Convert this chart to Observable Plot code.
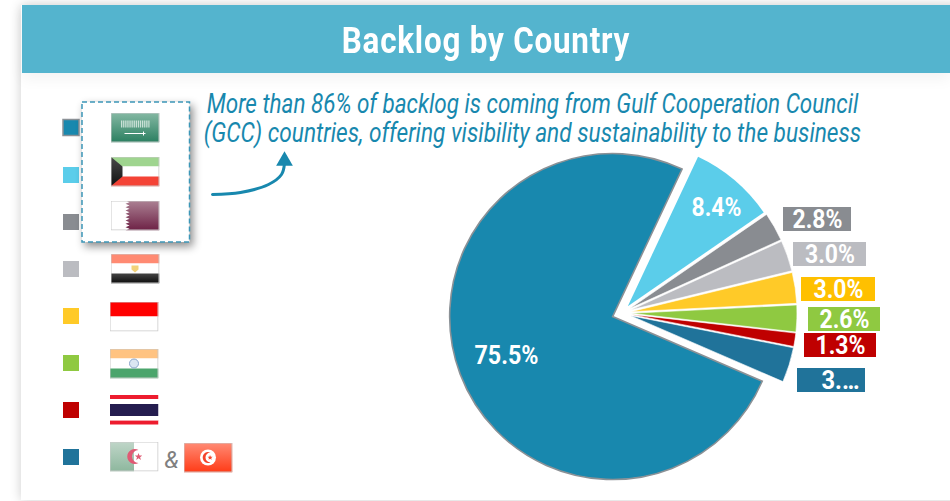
<!DOCTYPE html>
<html>
<head>
<meta charset="utf-8">
<script src="https://cdn.jsdelivr.net/npm/d3@7"></script>
<script src="https://cdn.jsdelivr.net/npm/@observablehq/plot@0.6"></script>
<style>
  html, body { margin: 0; background: #fff; overflow: hidden; width: 950px; height: 501px; }
  #panel { position: absolute; left: 21px; top: 5px; width: 960px; height: 495px; background: #fff;
           box-shadow: 0 0 11px rgba(0,0,0,.2); }
  #band { position: absolute; left: 22px; top: 5px; width: 928px; height: 68px; background: #54b4ce;
          box-shadow: 0 6px 14px rgba(0,0,0,.05); }
  h1 { position: absolute; left: 0; right: 0; top: 2px; margin: 0; text-align: center;
       font: 700 36.5px/68px Roboto, sans-serif; letter-spacing: .9px; color: #fff; transform: scaleX(.86); }
  #chart { position: absolute; left: 0; top: 0; }
</style>
</head>
<body>
<div id="panel"></div>
<div id="band"><h1>Backlog by Country</h1></div>
<div id="chart"></div>
<script>
// Backlog share per country, clockwise from the start of the largest slice
const countries = ["Saudi Arabia", "Kuwait", "Qatar", "Egypt", "Indonesia", "India", "Thailand", "Algeria & Tunisia"];
const shares = [75.5, 8.4, 2.8, 3.0, 3.0, 2.6, 1.3, 3.4];
const shareLabels = ["75.5%", "8.4%", "2.8%", "3.0%", "3.0%", "2.6%", "1.3%", "3.…"];
const sliceColors = ["#1888ae", "#5bcdea", "#898c91", "#bbbcc1", "#ffca28", "#8fc941", "#bf0000", "#20739a"];
const noteLines = [
  "More than 86% of backlog is coming from Gulf Cooperation Council",
  "(GCC) countries, offering visibility and sustainability to the business"
];

// Page layout
const pieCenter = [622, 313];
const pieStart = 113.4 * Math.PI / 180;
const sliceRadius = [163, 165, 166, 166, 166, 166, 166, 166];
const sliceOffset = [10, 9, 9, 9, 9, 9, 9, 9];
const swatchRows = [127.5, 175, 222, 269, 316, 363, 410, 457];
const calloutBoxes = [
  null, null,
  [783, 851, 207, 231], [793, 866, 242, 266], [801, 875, 277, 301],
  [808, 880, 307, 331], [804, 876, 333, 357], [797, 865, 368, 392]
];
const calloutFill = [null, null, "#898c91", "#bbbcc1", "#ffc000", "#8fc941", "#bf0000", "#20739a"];
const calloutShift = [0, 0, 0, 0, 0, 0, 0, 9];
const insideLabels = [[506, 355], [716, 207]];
const flagSpots = [
  ["saudi", 134.5, 127], ["kuwait", 134.5, 171], ["qatar", 134.5, 215], ["egypt", 134.5, 268],
  ["indonesia", 133.5, 316], ["india", 133.5, 363], ["thailand", 133.5, 409.5],
  ["algeria", 133.5, 456], ["tunisia", 207.5, 457]
];
const arrowPath = [[212, 194], [240, 192], [268, 184], [281, 174], [284, 163]];

// Small flag artwork, returned as standalone SVG images
function flagImage(name) {
  const edge = `<rect x=".5" y=".5" width="48" height="29" fill="none" stroke="#c9c9c9"/>`;
  const fade = (id, a, b) => `<linearGradient id="${id}" x1="0" y1="0" x2="0" y2="1"><stop offset="0" stop-color="${a}"/><stop offset="1" stop-color="${b}"/></linearGradient>`;
  let teeth = "M15 0";
  for (let i = 0; i < 9; i++) teeth += `L19 ${(i + .5) * 30 / 9}L15 ${(i + 1) * 30 / 9}`;
  teeth += "H49V0Z";
  const art = {
    saudi: `<defs>${fade("g", "#86b9a4", "#2a7f60")}</defs><rect width="49" height="30" fill="url(#g)"/>
      <path d="M10.500 11.500H39" fill="none" stroke="#eef5f0" stroke-opacity=".75" stroke-width="7" stroke-dasharray="1.3 .8"/>
      <path d="M14 21H35M33 19v4" stroke="#fff" stroke-width="1"/>${edge}`,
    kuwait: `<defs>${fade("k", "#4a4a4a", "#111")}</defs><rect width="49" height="10" fill="#9fd58f"/><rect y="10" width="49" height="10" fill="#fff"/>
      <rect y="20" width="49" height="10" fill="#f44336"/><path d="M0 0L12 10V20L0 30Z" fill="url(#k)"/>${edge}`,
    qatar: `<defs>${fade("q", "#ac8294", "#6d2145")}</defs><rect width="49" height="30" fill="#fff"/><path d="${teeth}" fill="url(#q)"/>${edge}`,
    egypt: `<defs>${fade("e", "#444", "#0c0c0c")}</defs><rect width="49" height="10" fill="#ff8a72"/><rect y="10" width="49" height="10" fill="#fff"/>
      <rect y="20" width="49" height="10" fill="url(#e)"/><path d="M21 12h7v4l-3.500 3-3.500-3Z" fill="#f2d27a"/>${edge}`,
    indonesia: `<rect width="49" height="15" fill="#f00"/><rect y="15" width="49" height="15" fill="#fff"/>${edge}`,
    india: `<rect width="49" height="10" fill="#ffc381"/><rect y="10" width="49" height="10" fill="#fff"/><rect y="20" width="49" height="10" fill="#4ba56c"/>
      <circle cx="24.500" cy="15" r="4.500" fill="#dbe6f2" stroke="#8ba6cc" stroke-width="1"/>${edge}`,
    thailand: `<rect width="49" height="30" fill="#fff"/><rect width="49" height="4" fill="#ed1c2e"/><rect y="9" width="49" height="12" fill="#241d4f"/>
      <rect y="25.500" width="49" height="4" fill="#ed1c2e"/><rect y="25" width="49" height=".8" fill="#f7a8b0"/>`,
    algeria: `<defs>${fade("a", "#c0d6c9", "#8db79d")}</defs><rect width="49" height="30" fill="#fff"/><rect width="24.500" height="30" fill="url(#a)"/>
      <path d="M29 8.500a7.500 7.500 0 1 0 0 13 6 6 0 1 1 0-13Z" fill="#e05a74"/><path d="M29 11.500l1 2.500h2.800l-2.200 1.700.9 2.800-2.500-1.700-2.300 1.700.8-2.800-2.200-1.700h2.800Z" fill="#e05a74"/>${edge}`,
    tunisia: `<defs>${fade("t", "#ff8c76", "#ff3a16")}</defs><rect width="49" height="30" fill="url(#t)"/><circle cx="24.500" cy="15" r="8" fill="#fff"/>
      <path d="M27 10a5.500 5.500 0 1 0 0 10 4.500 4.500 0 1 1 0-10Z" fill="#f4432a"/><path d="M26.500 12.500l.8 1.700h1.900l-1.500 1.200.6 1.900-1.800-1.100-1.500 1 .5-1.800-1.400-1.200h1.800Z" fill="#f4432a"/>${edge}`
  };
  const svg = `<svg xmlns="http://www.w3.org/2000/svg" width="49" height="30" viewBox="0 0 49 30">${art[name]}</svg>`;
  return "data:image/svg+xml," + encodeURIComponent(svg);
}

// Slice table built from the share list
const slices = countries.map((country, i) => ({country, share: shares[i], label: shareLabels[i]}));
const arcs = d3.pie().value((d) => d.share).sort(null).startAngle(pieStart).endAngle(pieStart + 2 * Math.PI)(slices);

// Exploded pie drawn from the angles above, placed and coloured through the chart's scales
function pieMark(index, {x, y, color}) {
  const g = d3.create("svg:g").attr("aria-label", "pie");
  const arc = d3.arc().innerRadius(0);
  arcs.forEach((a, i) => {
    const mid = (a.startAngle + a.endAngle) / 2;
    const dx = Math.sin(mid) * sliceOffset[i];
    const dy = -Math.cos(mid) * sliceOffset[i];
    const path = g.append("path")
      .attr("transform", `translate(${x(pieCenter[0]) + dx},${y(pieCenter[1]) + dy})`)
      .attr("d", arc.outerRadius(sliceRadius[i])(a))
      .attr("fill", color(a.data.country));
    if (i === 0) path.attr("stroke", "#8b9196").attr("stroke-width", 1.6).attr("stroke-linejoin", "miter");
    else if (i > 1) path.attr("stroke", "#fff").attr("stroke-width", .6);
  });
  return g.node();
}

const labelFont = {fontFamily: "Roboto, sans-serif", fontWeight: 700, fontSize: 26, fill: "#fff"};
const calloutRows = slices.map((d, i) => ({...d, box: calloutBoxes[i], fillColor: calloutFill[i], shift: calloutShift[i]})).filter((d) => d.box);

const chart = Plot.plot({
  width: 950,
  height: 501,
  margin: 0,
  style: {background: "transparent", overflow: "visible"},
  x: {type: "linear", domain: [0, 950], range: [0, 950], axis: null},
  y: {type: "linear", domain: [0, 501], range: [0, 501], axis: null},
  color: {domain: countries, range: sliceColors},
  marks: [
    // Colour key
    Plot.rect(countries, {
      x1: () => 63, x2: () => 79,
      y1: (d, i) => swatchRows[i] - 8, y2: (d, i) => swatchRows[i] + 8,
      fill: (d) => d,
      stroke: (d, i) => (i === 0 ? "#8b9196" : "none"),
      strokeWidth: 1.5
    }),
    // Highlight box around the GCC countries
    Plot.rect([countries.slice(0, 3)], {
      x1: () => 82, x2: () => 189.5, y1: () => 102, y2: () => 242,
      fill: "#fff", stroke: "#3c97b8", strokeWidth: 1.5, strokeDasharray: "5 3"
    }),
    Plot.image(flagSpots, {x: (d) => d[1], y: (d) => d[2], src: (d) => flagImage(d[0]), width: 49, height: 30}),
    Plot.text(["&"], {x: () => 171, y: () => 460, text: (d) => d, fontFamily: "Roboto, sans-serif", fontStyle: "italic", fontSize: 24, fill: "#808080"}),
    // Note and arrow
    Plot.text(noteLines, {
      x: () => 532, y: (d, i) => 104 + i * 29, text: (d) => d,
      fontFamily: "Roboto, sans-serif", fontStyle: "italic", fontSize: 27, fill: "#1888ae"
    }),
    Plot.line(arrowPath, {x: (d) => d[0], y: (d) => d[1], stroke: "#1888ae", strokeWidth: 3, curve: "catmull-rom"}),
    Plot.dot([arrowPath[arrowPath.length - 1]], {x: () => 284, y: () => 160.5, symbol: "triangle", r: 6.2, fill: "#1888ae"}),
    // Pie
    pieMark,
    // Share labels
    Plot.text(slices.slice(0, 2), {
      x: (d, i) => insideLabels[i][0], y: (d, i) => insideLabels[i][1], text: "label",
      ...labelFont
    }),
    Plot.rect(calloutRows, {
      x1: (d) => d.box[0], x2: (d) => d.box[1], y1: (d) => d.box[2], y2: (d) => d.box[3],
      fill: (d) => d.fillColor
    }),
    Plot.text(calloutRows, {
      x: (d) => (d.box[0] + d.box[1]) / 2 + d.shift, y: (d) => (d.box[2] + d.box[3]) / 2, text: "label",
      ...labelFont
    })
  ]
});

document.getElementById("chart").append(chart);

const rectGroups = chart.querySelectorAll('g[aria-label="rect"]');
const textGroups = chart.querySelectorAll('g[aria-label="text"]');

// Box shadow on the GCC highlight
rectGroups[1].style.filter = "drop-shadow(3px 4px 4px rgba(0,0,0,.45))";

// Squeeze a text horizontally about its anchor to a condensed set width
function condense(t, width) {
  const ratio = width / t.getComputedTextLength();
  const base = t.getAttribute("transform") || "";
  t.setAttribute("transform", `${base} scale(${ratio},1)`);
}
const noteWidths = [652, 658];
textGroups[1].querySelectorAll("text").forEach((t, i) => condense(t, noteWidths[i]));
[textGroups[2], textGroups[3]].forEach((group) => {
  group.querySelectorAll("text").forEach((t) => {
    const s = t.textContent;
    condense(t, s === "75.5%" ? 64 : s.length < 4 ? 38 : 50);
  });
});
</script>
</body>
</html>
